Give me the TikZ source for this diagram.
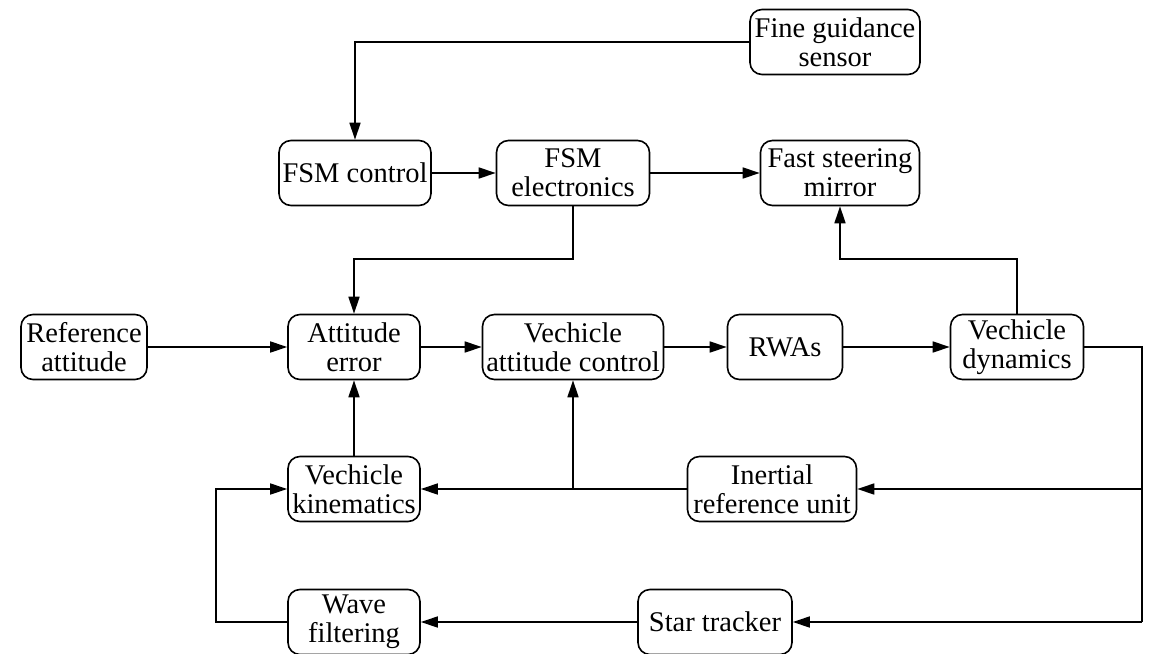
\documentclass[tikz,border=0pt]{standalone}
\usepackage{fontspec}
\setmainfont{Liberation Serif}
\usetikzlibrary{arrows.meta}

\tikzset{
  blockbox/.style={draw, line width=1.6pt, rounded corners=12pt, minimum height=65pt,
    inner sep=1pt, align=center, font=\fontsize{28.5}{29}\selectfont},
  sigline/.style={line width=1.6pt},
  sigarrow/.style={sigline, -{Triangle[length=17pt,width=11pt]}}
}

\begin{document}
\begin{tikzpicture}[x=1pt,y=-1pt]
	\useasboundingbox (0,0) rectangle (1150,653);
	
	%Blocks: fine guidance loop
	\node[blockbox, minimum width=170pt] (fgs) at (835,42) {Fine guidance\\sensor};
	\node[blockbox, minimum width=152pt] (fsmctrl) at (355,173) {FSM control};
	\node[blockbox, minimum width=153pt] (fsmel) at (573,173) {FSM\\electronics};
	\node[blockbox, minimum width=159pt] (fsm) at (840,173) {Fast steering\\mirror};
	%Blocks: attitude loop
	\node[blockbox, minimum width=126pt] (refatt) at (84,347) {Reference\\attitude};
	\node[blockbox, minimum width=132pt] (atterr) at (354,347) {Attitude\\error};
	\node[blockbox, minimum width=181pt] (vac) at (573,347) {Vechicle\\attitude control};
	\node[blockbox, minimum width=115pt] (rwas) at (785,347) {RWAs};
	\node[blockbox, minimum width=133pt] (vd) at (1017,347) {Vechicle\\dynamics};
	%Blocks: sensors
	\node[blockbox, minimum width=132pt] (vk) at (354,489) {Vechicle\\kinematics};
	\node[blockbox, minimum width=169pt] (iru) at (772,489) {Inertial\\reference unit};
	\node[blockbox, minimum width=132pt] (wf) at (354,622) {Wave\\filtering};
	\node[blockbox, minimum width=154pt] (st) at (715,622) {Star tracker};
	
	%Bus coordinates
	\coordinate (tb) at (0,259);
	\coordinate (rb) at (1142,0);
	\coordinate (lb) at (216,0);
	
	%Straight Lines: upper loop
	\draw[sigarrow] (fgs.west) -| (fsmctrl.north);
	\draw[sigarrow] (fsmctrl) -- (fsmel);
	\draw[sigarrow] (fsmel) -- (fsm);
	\draw[sigarrow] (fsmel.south) -- (fsmel.south |- tb) -| (atterr.north);
	\draw[sigarrow] (vd.north) -- (vd.north |- tb) -| (fsm.south);
	%Straight Lines: forward path
	\draw[sigarrow] (refatt) -- (atterr);
	\draw[sigarrow] (atterr) -- (vac);
	\draw[sigarrow] (vac) -- (rwas);
	\draw[sigarrow] (rwas) -- (vd);
	%Straight Lines: feedback
	\draw[sigline] (vd.east) -| (st.east -| rb);
	\draw[sigarrow] (iru.east -| rb) -- (iru.east);
	\draw[sigarrow] (st.east -| rb) -- (st.east);
	\draw[sigarrow] (iru) -- (vk);
	\draw[sigarrow] (vac.south |- iru.west) -- (vac.south);
	\draw[sigarrow] (vk) -- (atterr);
	\draw[sigarrow] (st) -- (wf);
	\draw[sigarrow] (wf.west) -- (wf.west -| lb) |- (vk.west);
	
\end{tikzpicture}
\end{document}
